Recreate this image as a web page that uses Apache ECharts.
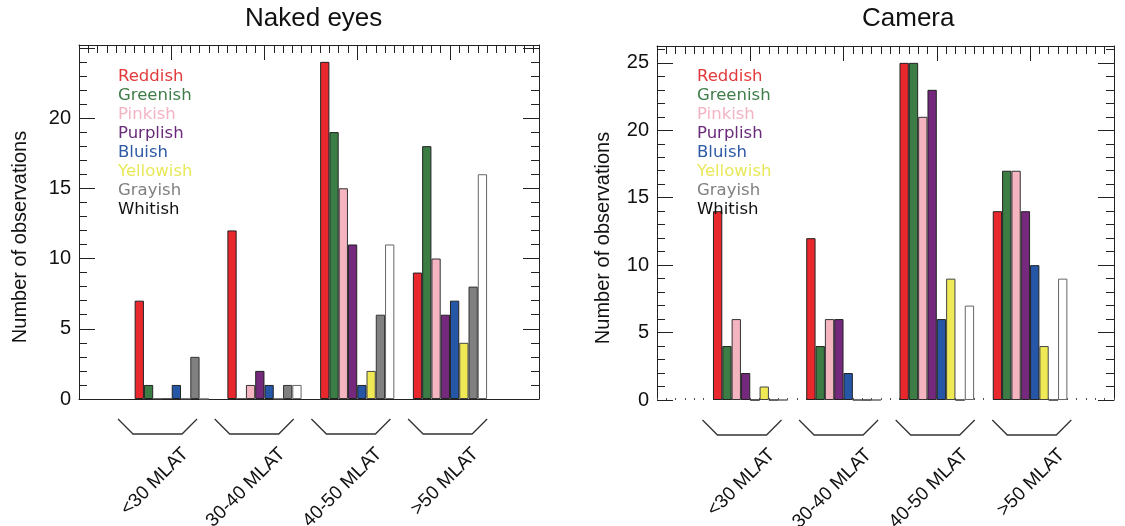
<!DOCTYPE html>
<html><head><meta charset="utf-8">
<script src="https://cdn.jsdelivr.net/npm/echarts@6/dist/echarts.min.js"></script>
<style>html,body{margin:0;padding:0;background:#fff}#c{width:1125px;height:526px}</style>
</head><body><div id="c"></div>
<script>
// ---- data ----
const categories = ['<30 MLAT', '30-40 MLAT', '40-50 MLAT', '>50 MLAT'];
const legendNames = ['Reddish', 'Greenish', 'Pinkish', 'Purplish', 'Bluish', 'Yellowish', 'Grayish', 'Whitish'];

const nakedReddish   = [7, 12, 24, 9];
const nakedGreenish  = [1, 0, 19, 18];
const nakedPinkish   = [0, 1, 15, 10];
const nakedPurplish  = [0, 2, 11, 6];
const nakedBluish    = [1, 1, 1, 7];
const nakedYellowish = [0, 0, 2, 4];
const nakedGrayish   = [3, 1, 6, 8];
const nakedWhitish   = [0, 1, 11, 16];

const cameraReddish   = [14, 12, 25, 14];
const cameraGreenish  = [4, 4, 25, 17];
const cameraPinkish   = [6, 6, 21, 17];
const cameraPurplish  = [2, 6, 23, 14];
const cameraBluish    = [0, 2, 6, 10];
const cameraYellowish = [1, 0, 9, 4];
const cameraGrayish   = [0, 0, 0, 0];
const cameraWhitish   = [0, 0, 7, 9];

const nakedTickLabels  = [0, 5, 10, 15, 20];
const cameraTickLabels = [0, 5, 10, 15, 20, 25];

// ---- styles ----
const barColors   = ['#e8282c', '#3b7d45', '#f4b4c0', '#75297c', '#2656a6', '#eee955', '#808080', '#ffffff'];
const textColors  = ['#e23a3a', '#3e7d48', '#f3b3c3', '#6a2a7a', '#2e5aa5', '#e8e85a', '#808080', '#111111'];
const borderCols  = ['#222', '#222', '#333', '#222', '#222', '#444', '#333', '#666'];

const nakedSets  = [nakedReddish, nakedGreenish, nakedPinkish, nakedPurplish, nakedBluish, nakedYellowish, nakedGrayish, nakedWhitish];
const cameraSets = [cameraReddish, cameraGreenish, cameraPinkish, cameraPurplish, cameraBluish, cameraYellowish, cameraGrayish, cameraWhitish];

const AX = '#222';
const FONT = 'Liberation Sans, Arial, sans-serif';

function barSeries(sets, xIdx, yIdx) {
  return sets.map((vals, s) => ({
    type: 'bar', name: legendNames[s], xAxisIndex: xIdx, yAxisIndex: yIdx,
    barWidth: '10%', barGap: '0%',
    itemStyle: { color: barColors[s], borderColor: borderCols[s], borderWidth: 1 },
    data: vals.map((v, i) => [i + 1, v])
  }));
}

// brackets + rotated group labels, placed on a hidden annotation axis
function annotSeries(xIdx, yIdx, labelDx) {
  return {
    type: 'custom', xAxisIndex: xIdx, yAxisIndex: yIdx, silent: true, clip: false, z: 10,
    data: categories.map((c, i) => [i + 1, 0]),
    renderItem(params, api) {
      const p = api.coord([api.value(0), 0]);
      const bx = p[0], y0 = p[1];
      return {
        type: 'group', children: [
          { type: 'polyline', shape: { points: [[bx - 39.5, y0 + 20], [bx - 24.5, y0 + 35], [bx + 24.5, y0 + 35], [bx + 39.5, y0 + 20]] },
            style: { stroke: '#333', lineWidth: 1.3, fill: null } },
          { type: 'text', x: bx + labelDx, y: y0 + 52, rotation: Math.PI / 4,
            style: { text: categories[params.dataIndex], font: '19px ' + FONT, fill: '#111', align: 'right', verticalAlign: 'middle' } }
        ]
      };
    }
  };
}

function xAxes(gridIndex, max, bottomLine, annMin, annMax) {
  return [
    { type: 'value', gridIndex, position: 'bottom', min: 0, max, interval: 1,
      axisLine: { show: bottomLine, onZero: false, lineStyle: { color: AX, width: 1 } },
      axisTick: { show: !bottomLine, inside: true, length: 2, lineStyle: { color: '#555' } },
      minorTick: { show: !bottomLine, splitNumber: 10, length: 2, lineStyle: { color: '#555' } },
      axisLabel: { show: false }, splitLine: { show: false } },
    { type: 'value', gridIndex, position: 'top', min: 0, max, interval: 1,
      axisLine: { show: true, onZero: false, lineStyle: { color: AX, width: 1 } },
      axisTick: { show: true, inside: true, length: 15, lineStyle: { color: AX, width: 1 } },
      minorTick: { show: true, splitNumber: 10, length: 8, lineStyle: { color: AX, width: 1 } },
      axisLabel: { show: false }, splitLine: { show: false } },
    { type: 'value', gridIndex, position: 'bottom', min: annMin, max: annMax, show: false,
      axisLine: { onZero: false }, splitLine: { show: false } }
  ];
}

function yAxes(gridIndex, max, labels, nameGap) {
  const tickCommon = {
    axisLine: { show: true, onZero: false, lineStyle: { color: AX, width: 1 } },
    axisTick: { show: true, inside: true, length: 16, lineStyle: { color: AX, width: 1 } },
    minorTick: { show: true, splitNumber: 5, length: 8, lineStyle: { color: AX, width: 1 } },
    splitLine: { show: false }
  };
  return [
    Object.assign({ type: 'value', gridIndex, position: 'left', min: 0, max, interval: 5,
      name: 'Number of observations', nameLocation: 'middle', nameGap,
      nameTextStyle: { fontFamily: FONT, fontSize: 20, color: '#111', padding: [0, 30, 0, 0] },
      axisLabel: { show: true, margin: 8, fontFamily: FONT, fontSize: 20, color: '#111',
        formatter: v => labels.indexOf(v) >= 0 ? String(v) : '' } }, tickCommon),
    Object.assign({ type: 'value', gridIndex, position: 'right', min: 0, max, interval: 5,
      axisLabel: { show: false } }, tickCommon)
  ];
}

const chart = echarts.init(document.getElementById('c'), null, { renderer: 'canvas' });
chart.setOption({
  animation: false,
  backgroundColor: '#fff',
  title: [
    { text: 'Naked eyes', left: 245, top: 6, padding: 0, textStyle: { fontFamily: FONT, fontSize: 26, fontWeight: 'normal', color: '#111' } },
    { text: 'Camera', left: 862, top: 6, padding: 0, textStyle: { fontFamily: FONT, fontSize: 26, fontWeight: 'normal', color: '#111' } }
  ],
  legend: [113, 692].map(l => ({
    left: l, top: 67, orient: 'vertical', icon: 'none', itemWidth: 0, itemHeight: 10, itemGap: 0,
    selectedMode: false, padding: 0,
    textStyle: { fontFamily: 'DejaVu Sans', fontSize: 16.5, lineHeight: 19 },
    data: legendNames.map((n, i) => ({ name: n, textStyle: { color: textColors[i] } }))
  })),
  grid: [
    { left: 79, top: 45, width: 460, height: 354 },
    { left: 657, top: 46, width: 457, height: 354 }
  ],
  xAxis: xAxes(0, 4.96, true, 0.188, 4.945).concat(xAxes(1, 4.9, false, 0.12, 4.851)),
  yAxis: yAxes(0, 25.2, nakedTickLabels, 49).concat(yAxes(1, 26.25, cameraTickLabels, 44)),
  series: barSeries(nakedSets, 0, 0)
    .concat(barSeries(cameraSets, 3, 2))
    .concat([annotSeries(2, 0, 28), annotSeries(5, 2, 30)])
});
</script></body></html>
